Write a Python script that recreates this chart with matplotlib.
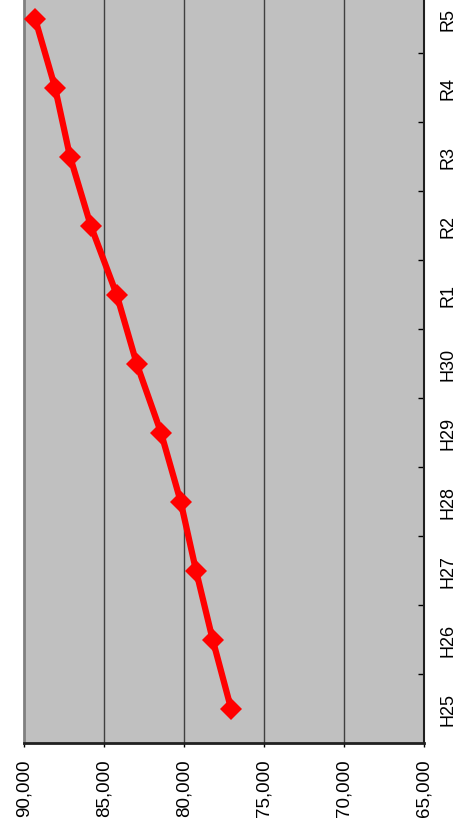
import matplotlib
matplotlib.use("Agg")
import matplotlib.pyplot as plt
from matplotlib.ticker import FixedLocator

plt.rcParams['font.family'] = ['Liberation Sans', 'DejaVu Sans']

categories = ["H25", "H26", "H27", "H28", "H29", "H30", "R1", "R2", "R3", "R4", "R5"]
values = [77060, 78210, 79250, 80210, 81440, 82960, 84210, 85830, 87125, 88060, 89310]
value_ticks = [90000, 85000, 80000, 75000, 70000, 65000]
value_tick_labels = ["90,000", "85,000", "80,000", "75,000", "70,000", "65,000"]

W, H = 457, 828
fig = plt.figure(figsize=(W / 100, H / 100), dpi=100)
left, right = 24 / W, 424 / W
bottom = (H - 744) / H
top = (H + 15) / H
ax = fig.add_axes([left, bottom, right - left, top - bottom])
ax.set_facecolor('#C0C0C0')

pos = list(range(len(categories)))

# vertical gridlines at value ticks
for v in value_ticks[1:-1]:
    ax.axvline(v, color='#404040', lw=1.0, zorder=1)

ax.plot(values, pos, color='#FF0000', lw=4.5, marker='D', ms=11.5,
        markeredgewidth=0, zorder=3, solid_joinstyle='miter')

ax.set_xlim(90000, 65000)
ax.set_ylim(-0.5, len(categories) - 0.5)

ax.set_xticks(value_ticks)
ax.set_xticklabels(value_tick_labels, rotation=90, fontsize=13.5)
ax.tick_params(axis='x', direction='out', length=3, width=1, pad=8, colors='black')

ax.yaxis.tick_right()
ax.set_yticks(pos)
ax.set_yticklabels(categories, rotation=90, fontsize=13, va='center')
ax.tick_params(axis='y', which='major', length=0, pad=11)
ax.yaxis.set_minor_locator(FixedLocator([p + 0.5 for p in pos[:-1]]))
ax.tick_params(axis='y', which='minor', direction='in', length=4, width=1, color='black')

ax.spines['top'].set_visible(False)
ax.spines['left'].set_color('#808080')
ax.spines['left'].set_linewidth(2)
ax.spines['bottom'].set_color('#202020')
ax.spines['bottom'].set_linewidth(2)
ax.spines['right'].set_color('#202020')
ax.spines['right'].set_linewidth(1.5)

fig.savefig('out.png', dpi=100)
